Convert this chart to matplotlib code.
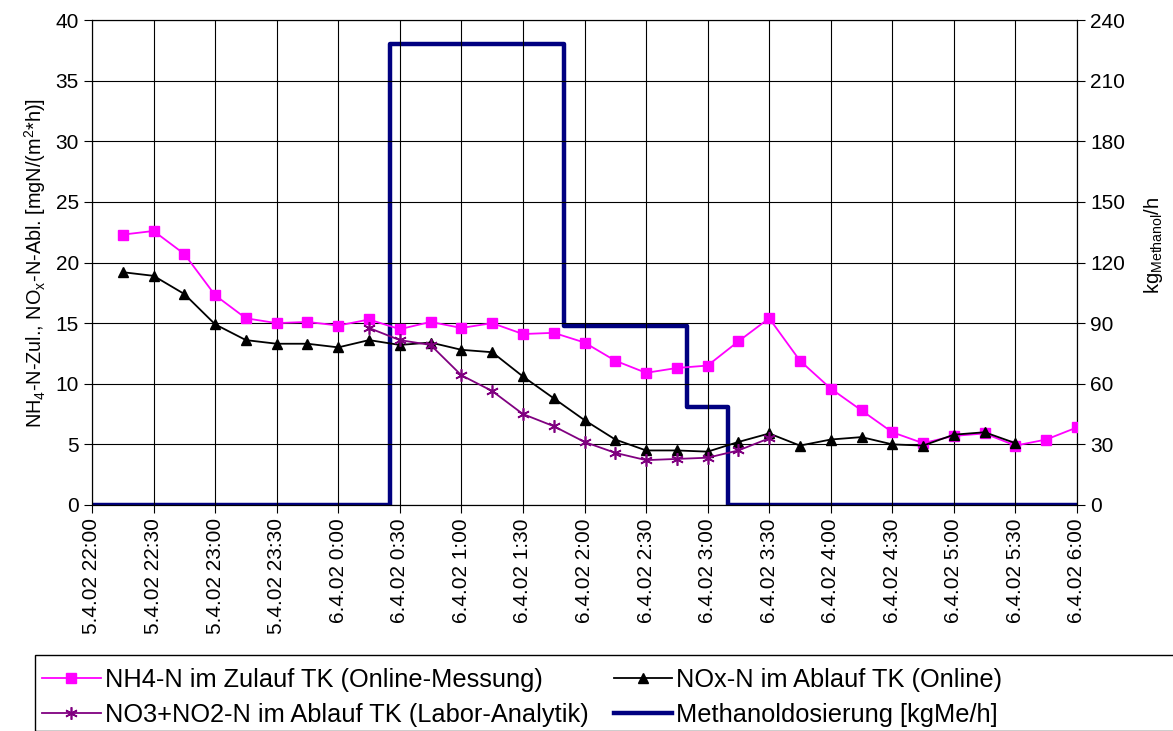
import numpy as np
import pandas as pd
import matplotlib
matplotlib.use("Agg")
import matplotlib.pyplot as plt
from matplotlib.patches import Rectangle

plt.rcParams['font.family'] = ['Liberation Sans', 'DejaVu Sans']
plt.rcParams['mathtext.fontset'] = 'custom'
plt.rcParams['mathtext.rm'] = 'Liberation Sans'
plt.rcParams['mathtext.it'] = 'Liberation Sans'

# measurement times, every 15 min from 22:15 to 6:00
times = pd.date_range("2002-04-05 22:15", periods=32, freq="15min")

nh4_zulauf = [22.3, 22.6, 20.7, 17.3, 15.4, 15.0, 15.1, 14.8, 15.3, 14.5, 15.1, 14.6,
              15.0, 14.1, 14.2, 13.4, 11.9, 10.9, 11.3, 11.5, 13.5, 15.4, 11.9, 9.6,
              7.8, 6.0, 5.1, 5.7, 5.9, 4.9, 5.4, 6.4]
nox_ablauf = [19.2, 18.9, 17.4, 14.9, 13.6, 13.3, 13.3, 13.0, 13.6, 13.2, 13.4, 12.8,
              12.6, 10.6, 8.8, 7.0, 5.4, 4.5, 4.5, 4.4, 5.2, 5.9, 4.9, 5.4,
              5.6, 5.0, 4.9, 5.8, 6.0, 5.1]
no3_labor = [14.6, 13.6, 13.2, 10.7, 9.4, 7.5, 6.5, 5.2, 4.3, 3.7, 3.8, 3.9, 4.5, 5.5]
no3_start = 8

dose_times = pd.to_datetime(["2002-04-05 22:00", "2002-04-06 00:25", "2002-04-06 01:50",
                             "2002-04-06 02:50", "2002-04-06 03:10", "2002-04-06 06:00"])
dose_levels = [0, 228, 88.5, 48.5, 0, 0]

tick_times = pd.date_range("2002-04-05 22:00", "2002-04-06 06:00", freq="30min")
tick_labels = [f"{t.day}.{t.month}.02 {t.hour}:{t.minute:02d}" for t in tick_times]

fig = plt.figure(figsize=(11.73, 7.31), dpi=100)
ax = fig.add_axes([92/1173, 1-505/731, (1077-92)/1173, (505-20)/731])
ax2 = ax.twinx()

fs = 15
l1, = ax.plot(times, nh4_zulauf, color='#FF00FF', lw=1.3, marker='s', ms=7,
              label='NH4-N im Zulauf TK (Online-Messung)', zorder=3)
l2, = ax.plot(times[:len(nox_ablauf)], nox_ablauf, color='black', lw=1.3, marker='^', ms=7.5,
              label='NOx-N im Ablauf TK (Online)', zorder=4)
l3, = ax.plot(times[no3_start:no3_start+len(no3_labor)], no3_labor, color='#800080', lw=1.3,
              marker=(6, 2, 0), ms=9, mew=1.2, label='NO3+NO2-N im Ablauf TK (Labor-Analytik)', zorder=5)
l4, = ax2.step(dose_times, dose_levels, where='post', color='#000080', lw=3.2,
               label='Methanoldosierung [kgMe/h]', zorder=2)

ax.set_xlim(tick_times[0], tick_times[-1])
ax.set_ylim(0, 40)
ax2.set_ylim(0, 240)
ax.set_yticks(np.arange(0, 41, 5))
ax2.set_yticks(np.arange(0, 241, 30))
ax.set_xticks(tick_times)
ax.set_xticklabels(tick_labels, rotation=90, fontsize=fs)
ax.tick_params(axis='y', labelsize=fs, direction='out', length=6, width=0.8)
ax.tick_params(axis='x', direction='out', length=6, width=0.8)
ax2.tick_params(axis='y', labelsize=fs, direction='out', length=6, width=0.8)
ax.grid(True, color='black', lw=0.8)
ax.set_axisbelow(True)

ax.set_zorder(ax2.get_zorder() + 1)
ax.patch.set_visible(False)

ax.set_ylabel(r'NH$_4$-N-Zul., NO$_x$-N-Abl. [mgN/(m$^2$*h)]', fontsize=14.3, labelpad=5)
ax2.set_ylabel(r'kg$_{\mathrm{Methanol}}$/h', fontsize=14.5)
ax2.yaxis.set_label_coords((1142 - 92) / 985, (505 - 245) / 485)
for s in ax.spines.values():
    s.set_linewidth(0.8)

# legend box, cut at the figure edge like the original
fig.patches.append(Rectangle((35/1173, 0), 1.2, 1-655/731, transform=fig.transFigure,
                             fill=False, edgecolor='black', lw=1.0))
fig.legend([l1, l3, l2, l4], [h.get_label() for h in [l1, l3, l2, l4]],
           loc='upper left', bbox_to_anchor=(27/1173, 1-653/731), ncol=2, frameon=False,
           fontsize=18.3, handlelength=2.3, handletextpad=0.15, columnspacing=1.0,
           labelspacing=0.42, borderpad=0.1)

fig.savefig("out.png", dpi=100)
